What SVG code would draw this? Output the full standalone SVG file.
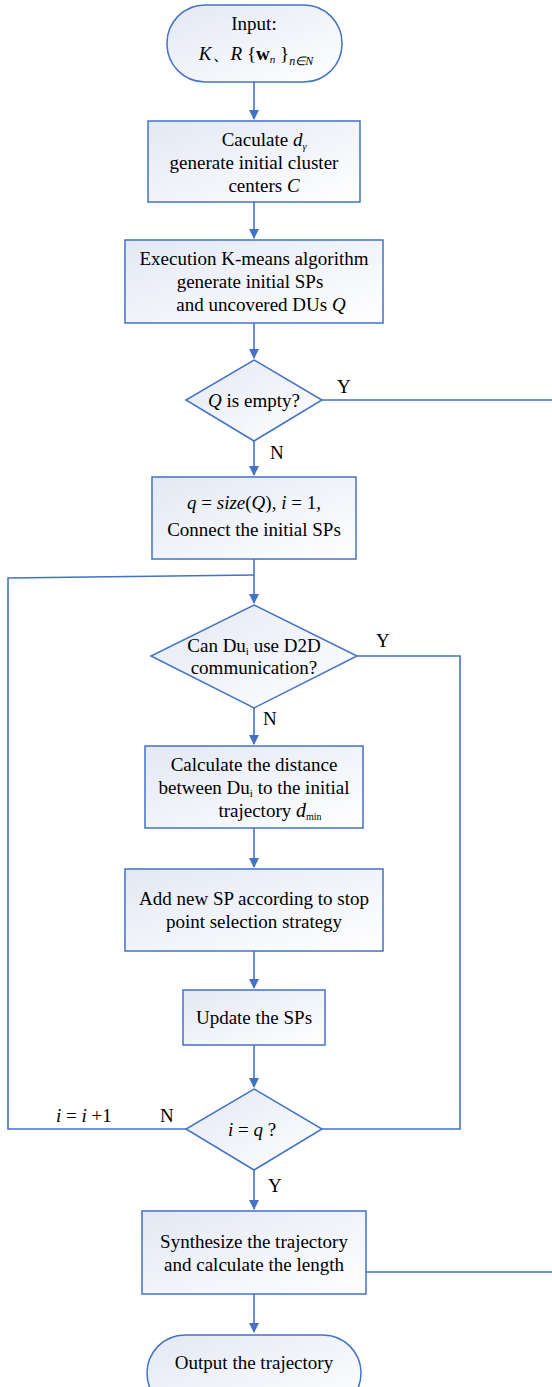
<svg xmlns="http://www.w3.org/2000/svg" width="552" height="1387" viewBox="0 0 552 1387">
<style>
.n{stroke:#4472c4;stroke-width:1.5;fill:url(#g)}
.c{stroke:#4472c4;stroke-width:1.6;fill:none}
.t{font-family:"Liberation Serif",serif;font-size:19px;fill:#000;text-anchor:middle}
.i{font-style:italic}
.l{font-family:"Liberation Serif",serif;font-size:19px;fill:#000}
</style>
<defs>
<linearGradient id="g" x1="0" y1="0" x2="1" y2="1">
<stop offset="0" stop-color="#e3e8f4"/>
<stop offset="1" stop-color="#ffffff"/>
</linearGradient>
<marker id="a" markerWidth="10" markerHeight="10" refX="9" refY="5" orient="auto" markerUnits="userSpaceOnUse">
<path d="M0,0 L10,5 L0,10 z" fill="#4472c4"/>
</marker>
</defs>
<g id="connectors">
<path class="c" d="M254,82 V119" marker-end="url(#a)"/>
<path class="c" d="M254,202 V238" marker-end="url(#a)"/>
<path class="c" d="M254,323 V358" marker-end="url(#a)"/>
<path class="c" d="M322,400 H552"/>
<path class="c" d="M254,441 V475" marker-end="url(#a)"/>
<path class="c" d="M254,559 V603" marker-end="url(#a)"/>
<path class="c" d="M254,575 L8,578 V1129 H186"/>
<path class="c" d="M357,656 H460 V1129 H322"/>
<path class="c" d="M254,708 V744" marker-end="url(#a)"/>
<path class="c" d="M254,828 V867" marker-end="url(#a)"/>
<path class="c" d="M254,951 V988" marker-end="url(#a)"/>
<path class="c" d="M254,1045 V1087" marker-end="url(#a)"/>
<path class="c" d="M254,1170 V1209" marker-end="url(#a)"/>
<path class="c" d="M366,1272 H552"/>
<path class="c" d="M254,1294 V1332" marker-end="url(#a)"/>
<text class="l" x="337" y="393">Y</text>
<text class="l" x="270" y="459">N</text>
<text class="l" x="376" y="647">Y</text>
<text class="l" x="263" y="725">N</text>
<text class="l" x="160" y="1122">N</text>
<text class="l" x="56" y="1122"><tspan class="i">i</tspan> = <tspan class="i">i</tspan> +1</text>
<text class="l" x="268" y="1192">Y</text>
</g>
<g id="input">
<rect class="n" x="167" y="5" width="175" height="77" rx="38" ry="38"/>
<text class="t" x="254" y="30">Input:</text>
<text class="t" x="256" y="60"><tspan class="i">K</tspan>、<tspan class="i">R</tspan>  {<tspan font-weight="bold">w</tspan><tspan class="i" font-size="11" dy="3">n</tspan><tspan dy="-3"> }</tspan><tspan class="i" font-size="12" dy="5">n∈N</tspan></text>
</g>
<g id="calc-centers">
<rect class="n" x="148" y="121" width="212" height="81"/>
<text class="t" x="264" y="146">Caculate  <tspan class="i">d</tspan><tspan class="i" font-size="10" dy="4">γ</tspan></text>
<text class="t" x="254" y="169">generate initial cluster</text>
<text class="t" x="264" y="192">centers   <tspan class="i">C</tspan></text>
</g>
<g id="kmeans">
<rect class="n" x="125" y="240" width="258" height="83"/>
<text class="t" x="254" y="265">Execution K-means algorithm</text>
<text class="t" x="250" y="288">generate initial SPs</text>
<text class="t" x="261" y="311">and uncovered DUs  <tspan class="i">Q</tspan></text>
</g>
<g id="q-empty">
<polygon class="n" points="254,360 322,400 254,441 186,400"/>
<text class="t" x="254" y="407"><tspan class="i">Q</tspan> is empty?</text>
</g>
<g id="init-sps">
<rect class="n" x="152" y="477" width="204" height="82"/>
<text class="t" x="254" y="509"><tspan class="i">q</tspan> = <tspan class="i">size</tspan>(<tspan class="i">Q</tspan>), <tspan class="i">i</tspan> = 1,</text>
<text class="t" x="254" y="536">Connect the initial SPs</text>
</g>
<g id="d2d">
<polygon class="n" points="254,605 357,656 254,708 151,656"/>
<text class="t" x="254" y="652">Can  Du<tspan font-size="11" dy="3">i</tspan><tspan dy="-3"> use D2D</tspan></text>
<text class="t" x="254" y="674">communication?</text>
</g>
<g id="distance">
<rect class="n" x="145" y="746" width="218" height="82"/>
<text class="t" x="254" y="771">Calculate the distance</text>
<text class="t" x="254" y="794">between Du<tspan font-size="11" dy="3">i</tspan><tspan dy="-3"> to the  initial</tspan></text>
<text class="t" x="270" y="817">trajectory  <tspan class="i" font-size="20">d</tspan><tspan font-size="10" dy="3">min</tspan></text>
</g>
<g id="add-sp">
<rect class="n" x="125" y="869" width="258" height="82"/>
<text class="t" x="254" y="905">Add new SP according to stop</text>
<text class="t" x="254" y="928">point selection strategy</text>
</g>
<g id="update">
<rect class="n" x="183" y="990" width="142" height="55"/>
<text class="t" x="254" y="1024">Update the SPs</text>
</g>
<g id="i-eq-q">
<polygon class="n" points="254,1089 322,1129 254,1170 186,1129"/>
<text class="t" x="252" y="1136"><tspan class="i">i</tspan> = <tspan class="i">q</tspan> ?</text>
</g>
<g id="synthesize">
<rect class="n" x="142" y="1211" width="224" height="83"/>
<text class="t" x="254" y="1248">Synthesize the trajectory</text>
<text class="t" x="254" y="1271">and calculate the length</text>
</g>
<g id="output">
<rect class="n" x="147" y="1335" width="214" height="76" rx="38" ry="38"/>
<text class="t" x="254" y="1369">Output the trajectory</text>
</g>
</svg>
